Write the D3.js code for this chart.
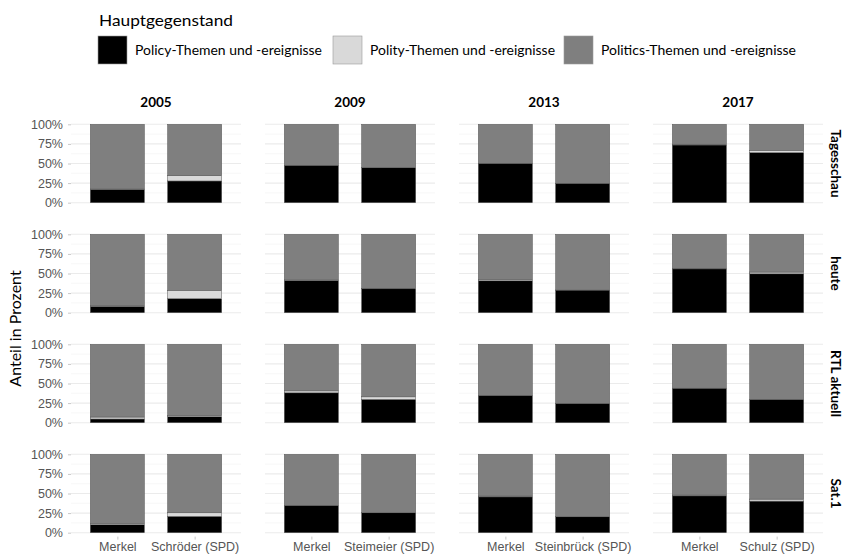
<!DOCTYPE html>
<html>
<head>
<meta charset="utf-8">
<script src="https://cdn.jsdelivr.net/npm/d3@7"></script>
<style>
  body { margin: 0; background: #fff; }
  svg { font-family: "Source Sans Pro", Lato, "Noto Sans", sans-serif; }
</style>
</head>
<body>
<svg id="chart" width="845" height="556"></svg>
<script>
// data
const years = ['2005', '2009', '2013', '2017'];
const channels = ['Tagesschau', 'heute', 'RTL aktuell', 'Sat.1'];
const challengers = ['Schröder (SPD)', 'Steimeier (SPD)', 'Steinbrück (SPD)', 'Schulz (SPD)'];
const categories = ['Policy-Themen und -ereignisse', 'Polity-Themen und -ereignisse', 'Politics-Themen und -ereignisse'];
const yTicks = [0, 25, 50, 75, 100];

// policy share per [channel][year] -> [Merkel, challenger]
const policy = [
  [[17, 27.7], [47.7, 44.6], [50.2, 24.7], [73.6, 63.8]],
  [[8.1, 17.8], [41.2, 30.5], [40.7, 28.8], [55.9, 49.6]],
  [[4.7, 7.6], [38.1, 29.7], [34.8, 24.6], [44, 29.7]],
  [[10.2, 20.8], [34.8, 25.4], [45.7, 20.3], [47, 40.3]]
];
// polity share per [channel][year] -> [Merkel, challenger]
const polity = [
  [[0.4, 6.7], [0, 0.3], [0, 0], [1, 3]],
  [[1, 10.7], [0.6, 0.4], [1.5, 0], [0.3, 2.2]],
  [[2.5, 1.6], [2.5, 3.3], [0, 0], [0, 0]],
  [[1.7, 4.6], [0, 0], [1, 0], [1, 2.5]]
];

const colors = ['#000000', '#d9d9d9', '#7f7f7f'];

const svg = d3.select('#chart');

const panelW = 170, panelH = 86.2;
const panelLeft = 71, panelStepX = 194;
const panelTop = 120.4, panelStepY = 110;

const color = d3.scaleOrdinal().domain(categories).range(colors);

const y = d3.scaleLinear().domain([-5, 105]).range([panelH, 0]);

// legend
const legend = svg.append('g');
legend.append('text')
  .attr('x', 99).attr('y', 26)
  .attr('textLength', 134).attr('lengthAdjust', 'spacingAndGlyphs')
  .style('font-size', '16px').style('fill', '#000')
  .text('Hauptgegenstand');
const legendX = [98, 333, 564];
const legendW = [187, 185, 195];
categories.forEach((c, i) => {
  legend.append('rect')
    .attr('x', legendX[i]).attr('y', 36).attr('width', 29).attr('height', 28)
    .attr('fill', color(c)).attr('stroke', '#999').attr('stroke-width', 0.6);
  legend.append('text')
    .attr('x', legendX[i] + 37).attr('y', 50).attr('dy', '0.35em')
    .attr('textLength', legendW[i]).attr('lengthAdjust', 'spacingAndGlyphs')
    .style('font-size', '13.5px').style('fill', '#000')
    .text(c);
});

// y axis title
svg.append('text')
  .attr('transform', `translate(21, ${panelTop + 1.5 * panelStepY + panelH / 2}) rotate(-90)`)
  .attr('text-anchor', 'middle')
  .style('font-size', '16px')
  .text('Anteil in Prozent');

channels.forEach((ch, r) => {
  years.forEach((yr, c) => {
    const g = svg.append('g')
      .attr('transform', `translate(${panelLeft + c * panelStepX}, ${panelTop + r * panelStepY})`);

    const cands = ['Merkel', challengers[c]];
    const x = d3.scalePoint().domain(cands).range([0, panelW]).padding(0.6);
    const step = x.step();
    const barW = step * 0.7;

    // minor grid
    g.selectAll('line.minor')
      .data([12.5, 37.5, 62.5, 87.5])
      .enter().append('line')
      .attr('x1', 0).attr('x2', panelW)
      .attr('y1', d => y(d)).attr('y2', d => y(d))
      .style('stroke', '#f5f5f5').style('stroke-width', 0.8);
    // major grid
    g.selectAll('line.major')
      .data(yTicks)
      .enter().append('line')
      .attr('x1', 0).attr('x2', panelW)
      .attr('y1', d => y(d)).attr('y2', d => y(d))
      .style('stroke', '#ebebeb').style('stroke-width', 1.1);

    // stacked bars
    cands.forEach((cand, k) => {
      const p = policy[r][c][k];
      const q = polity[r][c][k];
      const segs = [[0, p], [p, p + q], [p + q, 100]];
      segs.forEach((s, j) => {
        if (s[1] - s[0] <= 0) return;
        g.append('rect')
          .attr('x', x(cand) - barW / 2)
          .attr('width', barW)
          .attr('y', y(s[1]))
          .attr('height', y(s[0]) - y(s[1]))
          .attr('fill', colors[j])
          .attr('stroke', '#555')
          .attr('stroke-width', 0.5);
      });
    });

    // y axis on first column
    if (c === 0) {
      const ya = g.append('g')
        .call(d3.axisLeft(y).tickValues(yTicks).tickSize(3).tickPadding(5).tickFormat(d => d + '%'));
      ya.select('.domain').remove();
      ya.selectAll('line').attr('stroke', '#c8c8c8');
      ya.selectAll('text').style('font-size', '12.5px').style('fill', '#555').style('font-family', 'inherit');
    }

    // x axis on last row
    if (r === channels.length - 1) {
      const xa = g.append('g')
        .attr('transform', `translate(0, ${panelH})`)
        .call(d3.axisBottom(x).tickSize(3).tickPadding(3));
      xa.select('.domain').remove();
      xa.selectAll('line').attr('stroke', '#c8c8c8');
      xa.selectAll('text').style('font-size', '12.5px').style('fill', '#555').style('font-family', 'inherit');
    }

    // top strip
    if (r === 0) {
      g.append('text')
        .attr('x', panelW / 2).attr('y', -13)
        .attr('text-anchor', 'middle')
        .style('font-size', '13.5px').style('font-weight', 'bold')
        .text(yr);
    }

    // right strip
    if (c === years.length - 1) {
      g.append('text')
        .attr('transform', `translate(${panelW + 8}, ${panelH / 2}) rotate(90)`)
        .attr('text-anchor', 'middle')
        .style('font-size', '13.5px').style('font-weight', 'bold')
        .text(ch);
    }
  });
});
</script>
</body>
</html>
